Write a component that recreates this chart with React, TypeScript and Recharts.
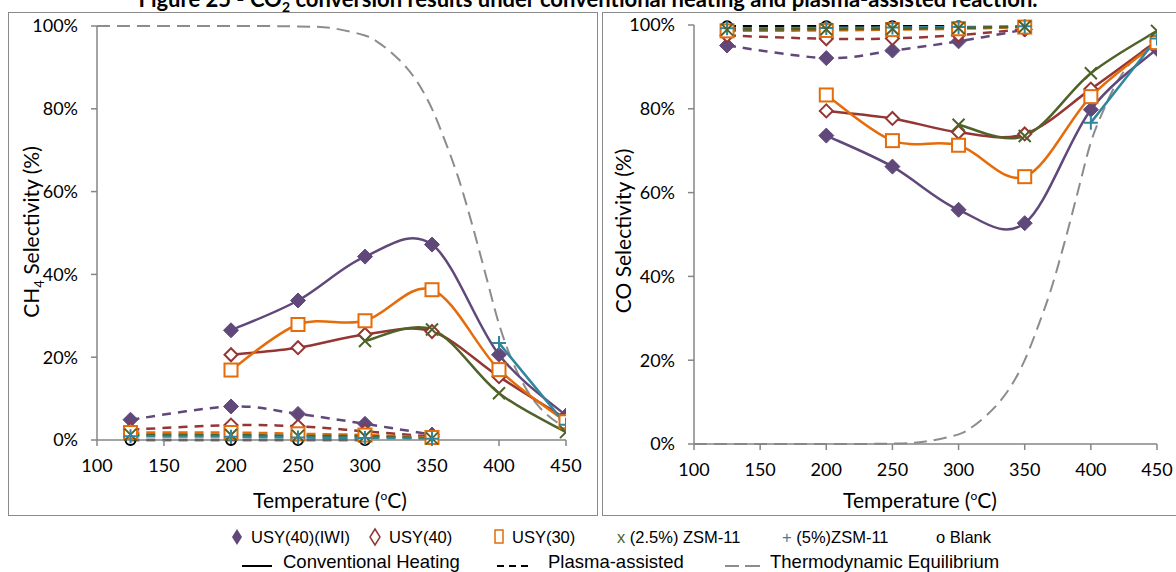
import { Line, LineChart, XAxis, YAxis } from "recharts";

// temperatures (°C)
const tempTicks = [100, 150, 200, 250, 300, 350, 400, 450];
const pctTicks = [0, 20, 40, 60, 80, 100];
const convTemps = [200, 250, 300, 350, 400, 450];
const plasmaTemps = [125, 200, 250, 300, 350];
const zsm25ConvTemps = [300, 350, 400, 450];
const zsm5ConvTemps = [400, 450];
const blankTemps = [125, 200, 250, 300];
const eqTemps = [100, 150, 200, 250, 275, 300, 310, 320, 330, 340, 350, 360, 370, 380, 390, 400, 410, 420, 430, 440, 450];

// CH4 selectivity (%) - conventional heating
const iwiCh4Conv = [26.5, 33.7, 44.3, 47.2, 20.6, 5.9];
const usy40Ch4Conv = [20.6, 22.3, 25.5, 26.2, 15.3, 5.1];
const usy30Ch4Conv = [16.9, 27.9, 28.8, 36.3, 17.0, 4.4];
const zsm25Ch4Conv = [23.9, 26.7, 11.3, 1.9];
const zsm5Ch4Conv = [23.4, 3.7];
// CH4 selectivity (%) - plasma-assisted
const iwiCh4Plasma = [4.9, 8.1, 6.3, 3.9, 1.3];
const usy40Ch4Plasma = [2.5, 3.6, 3.3, 2.1, 0.8];
const usy30Ch4Plasma = [1.8, 1.8, 1.5, 1.2, 0.6];
const zsm25Ch4Plasma = [1.3, 1.2, 1.0, 0.9, 0.4];
const zsm5Ch4Plasma = [0.9, 0.8, 0.6, 0.5, 0.3];
const blankCh4Plasma = [0, 0, 0, 0];
const eqCh4 = [100, 100, 100, 99.9, 99.5, 97.7, 96, 93.5, 90.3, 86, 80, 72, 63, 52, 40, 28, 19, 12.5, 8, 5, 3];

// CO selectivity (%) - conventional heating
const iwiCoConv = [73.6, 66.2, 55.9, 52.7, 79.8, 94.3];
const usy40CoConv = [79.5, 77.7, 74.4, 74.0, 84.7, 96.2];
const usy30CoConv = [83.3, 72.4, 71.3, 63.8, 82.9, 95.8];
const zsm25CoConv = [76.2, 73.5, 88.5, 98.6];
const zsm5CoConv = [76.7, 96.8];
// CO selectivity (%) - plasma-assisted
const iwiCoPlasma = [95.1, 92.1, 93.9, 96.1, 98.9];
const usy40CoPlasma = [97.5, 96.7, 96.8, 97.6, 99.0];
const usy30CoPlasma = [98.6, 98.7, 98.9, 99.1, 99.5];
const zsm25CoPlasma = [98.9, 99.0, 99.1, 99.3, 99.6];
const zsm5CoPlasma = [99.2, 99.3, 99.4, 99.5, 99.7];
const blankCoPlasma = [99.7, 99.7, 99.7, 99.7];
const eqCo = [0, 0, 0, 0.1, 0.6, 2.3, 4, 6.5, 9.7, 14, 20, 28, 37, 48, 60, 72, 80, 86.5, 91, 94, 96];

const PURPLE = "#60497A";
const RED = "#943634";
const ORANGE = "#E46C0A";
const GREEN = "#4F6228";
const TEAL = "#31859C";
const BLACK = "#000000";
const EQ_GRAY = "#8C8C8C";
const AXIS = "#868686";

// Excel-like smoothed line (Catmull-Rom through the points)
const excelSmooth = (context: any) => {
  let pts: number[][] = [];
  return {
    areaStart() {},
    areaEnd() {},
    lineStart() {
      pts = [];
    },
    point(x: number, y: number) {
      pts.push([+x, +y]);
    },
    lineEnd() {
      if (!pts.length) return;
      context.moveTo(pts[0][0], pts[0][1]);
      for (let i = 0; i < pts.length - 1; i++) {
        const p0 = pts[i - 1] || pts[i];
        const p1 = pts[i];
        const p2 = pts[i + 1];
        const p3 = pts[i + 2] || pts[i + 1];
        context.bezierCurveTo(
          p1[0] + (p2[0] - p0[0]) / 6,
          p1[1] + (p2[1] - p0[1]) / 6,
          p2[0] - (p3[0] - p1[0]) / 6,
          p2[1] - (p3[1] - p1[1]) / 6,
          p2[0],
          p2[1]
        );
      }
    },
  };
};

const makeDot = (shape: string, color: string) => (p: any) => {
  const { cx, cy, index } = p;
  const k = `${shape}-${color}-${index}`;
  if (cx == null || cy == null) return <g key={k} />;
  if (shape === "diamond")
    return <path key={k} d={`M${cx},${cy - 7.5}L${cx + 7.5},${cy}L${cx},${cy + 7.5}L${cx - 7.5},${cy}Z`} fill={color} stroke={color} strokeWidth={1} />;
  if (shape === "openDiamond")
    return <path key={k} d={`M${cx},${cy - 6.5}L${cx + 6.5},${cy}L${cx},${cy + 6.5}L${cx - 6.5},${cy}Z`} fill="#fff" stroke={color} strokeWidth={2} />;
  if (shape === "square")
    return <rect key={k} x={cx - 6.5} y={cy - 6.5} width={13} height={13} fill="#fff" stroke={color} strokeWidth={2} />;
  if (shape === "cross")
    return <path key={k} d={`M${cx - 6},${cy - 6}L${cx + 6},${cy + 6}M${cx - 6},${cy + 6}L${cx + 6},${cy - 6}`} stroke={color} strokeWidth={2} fill="none" />;
  if (shape === "plus")
    return <path key={k} d={`M${cx - 7},${cy}L${cx + 7},${cy}M${cx},${cy - 7}L${cx},${cy + 7}`} stroke={color} strokeWidth={2} fill="none" />;
  return <circle key={k} cx={cx} cy={cy} r={5} fill="none" stroke={color} strokeWidth={2} />;
};

type Series = { id: string; temps: number[]; values: number[]; color: string; shape: string | null; dash?: string; width?: number };

const toPoints = (temps: number[], values: number[]) => temps.map((t, i) => ({ t, v: values[i] }));

const PLASMA_DASH = "9 7";
const EQ_DASH = "13 7";

const ch4Series: Series[] = [
  { id: "eq", temps: eqTemps, values: eqCh4, color: EQ_GRAY, shape: null, dash: EQ_DASH, width: 2 },
  { id: "blP", temps: blankTemps, values: blankCh4Plasma, color: BLACK, shape: "circle", dash: PLASMA_DASH },
  { id: "iwiC", temps: convTemps, values: iwiCh4Conv, color: PURPLE, shape: "diamond" },
  { id: "iwiP", temps: plasmaTemps, values: iwiCh4Plasma, color: PURPLE, shape: "diamond", dash: PLASMA_DASH },
  { id: "u40C", temps: convTemps, values: usy40Ch4Conv, color: RED, shape: "openDiamond" },
  { id: "u40P", temps: plasmaTemps, values: usy40Ch4Plasma, color: RED, shape: "openDiamond", dash: PLASMA_DASH },
  { id: "u30C", temps: convTemps, values: usy30Ch4Conv, color: ORANGE, shape: "square" },
  { id: "u30P", temps: plasmaTemps, values: usy30Ch4Plasma, color: ORANGE, shape: "square", dash: PLASMA_DASH },
  { id: "z25C", temps: zsm25ConvTemps, values: zsm25Ch4Conv, color: GREEN, shape: "cross" },
  { id: "z25P", temps: plasmaTemps, values: zsm25Ch4Plasma, color: GREEN, shape: "cross", dash: PLASMA_DASH },
  { id: "z5C", temps: zsm5ConvTemps, values: zsm5Ch4Conv, color: TEAL, shape: "plus" },
  { id: "z5P", temps: plasmaTemps, values: zsm5Ch4Plasma, color: TEAL, shape: "plus", dash: PLASMA_DASH },
];

const coSeries: Series[] = [
  { id: "eq", temps: eqTemps, values: eqCo, color: EQ_GRAY, shape: null, dash: EQ_DASH, width: 2 },
  { id: "iwiC", temps: convTemps, values: iwiCoConv, color: PURPLE, shape: "diamond" },
  { id: "iwiP", temps: plasmaTemps, values: iwiCoPlasma, color: PURPLE, shape: "diamond", dash: PLASMA_DASH },
  { id: "u40C", temps: convTemps, values: usy40CoConv, color: RED, shape: "openDiamond" },
  { id: "u40P", temps: plasmaTemps, values: usy40CoPlasma, color: RED, shape: "openDiamond", dash: PLASMA_DASH },
  { id: "blP", temps: blankTemps, values: blankCoPlasma, color: BLACK, shape: "circle", dash: PLASMA_DASH },
  { id: "u30C", temps: convTemps, values: usy30CoConv, color: ORANGE, shape: "square" },
  { id: "u30P", temps: plasmaTemps, values: usy30CoPlasma, color: ORANGE, shape: "square", dash: PLASMA_DASH },
  { id: "z5C", temps: zsm5ConvTemps, values: zsm5CoConv, color: TEAL, shape: "plus" },
  { id: "z5P", temps: plasmaTemps, values: zsm5CoPlasma, color: TEAL, shape: "plus", dash: PLASMA_DASH },
  { id: "z25C", temps: zsm25ConvTemps, values: zsm25CoConv, color: GREEN, shape: "cross" },
  { id: "z25P", temps: plasmaTemps, values: zsm25CoPlasma, color: GREEN, shape: "cross", dash: PLASMA_DASH },
];

const tickFont = { fontFamily: "Lato, sans-serif", fontSize: 18, fill: "#000" };

const Panel = ({ series, width, height, margin, xHeight, yWidth }: any) => (
  <LineChart width={width} height={height} margin={margin}>
    <XAxis
      type="number"
      dataKey="t"
      domain={[100, 450]}
      ticks={tempTicks}
      allowDataOverflow
      height={xHeight}
      stroke={AXIS}
      strokeWidth={1.5}
      tickSize={6}
      tickMargin={13}
      tick={tickFont}
    />
    <YAxis
      type="number"
      domain={[0, 100]}
      ticks={pctTicks}
      width={yWidth}
      stroke={AXIS}
      strokeWidth={1.5}
      tickSize={6}
      tickMargin={13}
      tick={tickFont}
      tickFormatter={(v: number) => `${v}%`}
    />
    {series.map((s: Series) => (
      <Line
        key={s.id}
        data={toPoints(s.temps, s.values)}
        dataKey="v"
        type={excelSmooth as any}
        stroke={s.color}
        strokeWidth={s.width ?? 2.5}
        strokeDasharray={s.dash}
        dot={s.shape ? makeDot(s.shape, s.color) : false}
        activeDot={false}
        legendType="none"
        isAnimationActive={false}
      />
    ))}
  </LineChart>
);

const frame = { position: "absolute" as const, border: "1.5px solid #8a8a8a", boxSizing: "border-box" as const };
const axisTitle = { position: "absolute" as const, fontFamily: "Lato, sans-serif", fontSize: 21, whiteSpace: "nowrap" as const, color: "#000" };
const legendText = { position: "absolute" as const, fontFamily: "'Liberation Sans', Arial, sans-serif", fontSize: 18.5, lineHeight: "20px", whiteSpace: "nowrap" as const, color: "#000" };
const legendRow1 = { ...legendText, fontSize: 16.5 };

const Temp = () => (
  <span>
    Temperature (<sup style={{ fontSize: 12, verticalAlign: "8px" }}>o</sup>C)
  </span>
);

export default function App() {
  return (
    <div style={{ position: "absolute", left: 0, top: 0, width: 1176, height: 572, background: "#fff", overflow: "hidden" }}>
      <div
        style={{
          position: "absolute",
          top: -12,
          left: 0,
          width: 1176,
          textAlign: "center",
          fontFamily: "Lato, sans-serif",
          fontWeight: 700,
          fontSize: 22,
          lineHeight: "22px",
          whiteSpace: "nowrap",
        }}
      >
        Figure 25 - CO<sub style={{ fontSize: 14, lineHeight: 0 }}>2</sub> conversion results under conventional heating and plasma-assisted reaction.
      </div>

      <div style={{ position: "absolute", left: 8, top: 12 }}>
        <Panel series={ch4Series} width={589} height={503} margin={{ top: 14, right: 31, left: 0, bottom: 0 }} xHeight={75} yWidth={89} />
      </div>
      <div style={{ position: "absolute", left: 602, top: 12 }}>
        <Panel series={coSeries} width={574} height={503} margin={{ top: 13, right: 19, left: 0, bottom: 0 }} xHeight={71} yWidth={92} />
      </div>
      <div style={{ ...frame, left: 8, top: 12, width: 590, height: 504 }} />
      <div style={{ ...frame, left: 602, top: 12, width: 576, height: 504 }} />

      <div style={{ ...axisTitle, left: 30, top: 232, transform: "translate(-50%,-50%) rotate(-90deg)" }}>
        CH<sub style={{ fontSize: 13, lineHeight: 0 }}>4</sub> Selectivity (%)
      </div>
      <div style={{ ...axisTitle, left: 622, top: 231, transform: "translate(-50%,-50%) rotate(-90deg)" }}>CO Selectivity (%)</div>
      <div style={{ ...axisTitle, left: 330, top: 499, transform: "translate(-50%,-50%)" }}>
        <Temp />
      </div>
      <div style={{ ...axisTitle, left: 920, top: 499, transform: "translate(-50%,-50%)" }}>
        <Temp />
      </div>

      {/* legend markers and line samples */}
      <svg style={{ position: "absolute", left: 0, top: 520, overflow: "visible" }} width={1176} height={52}>
        <path d="M237,9L242,17L237,25L232,17Z" fill={PURPLE} />
        <path d="M375,9L380,17L375,25L370,17Z" fill="#fff" stroke={RED} strokeWidth={1.5} />
        <rect x={495} y={10} width={8} height={13} fill="#fff" stroke={ORANGE} strokeWidth={1.5} />
        <line x1={242} y1={46} x2={272} y2={46} stroke={BLACK} strokeWidth={2} />
        <path d="M497,46L504,46M509,46L516,46M521,46L528,46" stroke={BLACK} strokeWidth={2} />
        <path d="M725,46L739,46M745,46L760,46" stroke={EQ_GRAY} strokeWidth={2} />
      </svg>
      <div style={{ ...legendRow1, left: 251, top: 527 }}>USY(40)(IWI)</div>
      <div style={{ ...legendRow1, left: 389, top: 527 }}>USY(40)</div>
      <div style={{ ...legendRow1, left: 512, top: 527 }}>USY(30)</div>
      <div style={{ ...legendRow1, left: 617, top: 527 }}>
        <span style={{ color: GREEN }}>x</span> (2.5%) ZSM-11
      </div>
      <div style={{ ...legendRow1, left: 782, top: 527 }}>
        <span style={{ color: TEAL }}>+</span> (5%)ZSM-11
      </div>
      <div style={{ ...legendRow1, left: 936, top: 527 }}>o Blank</div>

      <div style={{ ...legendText, left: 283, top: 552 }}>Conventional Heating</div>
      <div style={{ ...legendText, left: 548, top: 552 }}>Plasma-assisted</div>
      <div style={{ ...legendText, left: 770, top: 552 }}>Thermodynamic Equilibrium</div>
    </div>
  );
}
